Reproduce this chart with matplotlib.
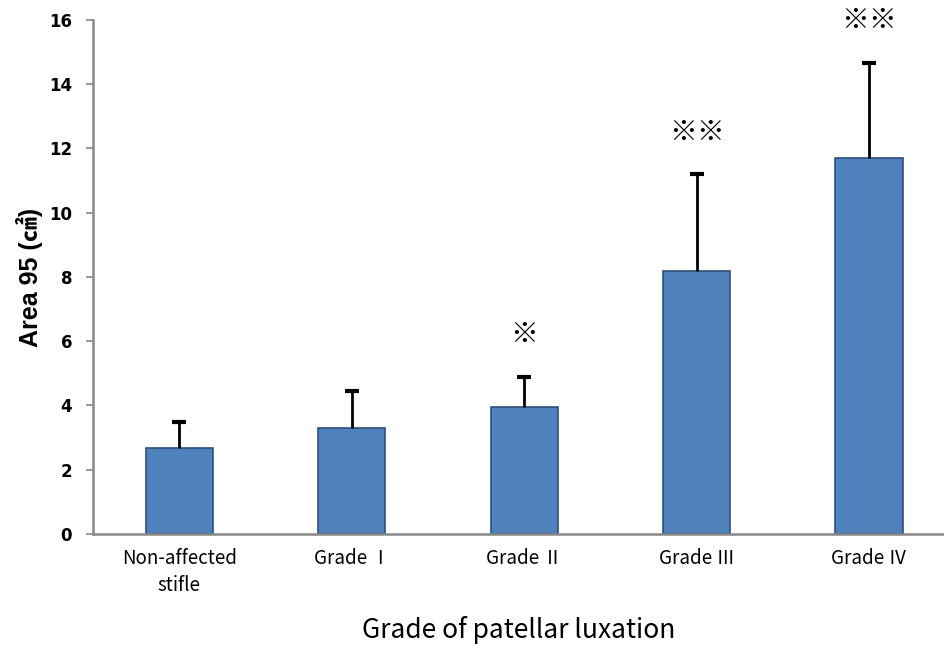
import matplotlib
matplotlib.use('Agg')
import matplotlib.pyplot as plt

# Data
groups = ['Non-affected\nstifle', 'Grade Ⅰ', 'Grade Ⅱ', 'Grade Ⅲ', 'Grade Ⅳ']
means = [2.68, 3.30, 3.96, 8.19, 11.71]
sd = [0.80, 1.15, 0.93, 3.00, 2.96]
marks = ['', '', '※', '※※', '※※']

fig = plt.figure(figsize=(9.45, 6.54), dpi=100)
ax = fig.add_axes([0.0984, 0.1835, 0.9016, 0.786])

x = list(range(len(groups)))
tops = [m + s for m, s in zip(means, sd)]
ax.bar(x, means, width=0.39, color='#4F81BD', edgecolor='#2F4F78', linewidth=1.2, zorder=2)
# upper error bars only, with a cap at the top
ax.errorbar(x, means, yerr=[[0] * len(sd), sd], fmt='none', ecolor='black',
            elinewidth=2, capsize=0, zorder=3)
ax.plot(x, tops, linestyle='none', marker='_', markersize=10, mew=3, color='black', zorder=3)

for xi, t, lab in zip(x, tops, marks):
    if lab:
        ax.text(xi, t + 1.3, lab, ha='center', va='center', fontsize=20, fontweight='bold',
                family=['Noto Sans CJK KR', 'DejaVu Sans'])

ax.set_xlim(-0.5, 4.44)
ax.set_ylim(0, 16)
ax.set_yticks(range(0, 17, 2))
ax.set_xticks(x)
ax.set_xticklabels(groups, family=['Noto Sans CJK KR', 'DejaVu Sans'],
                   fontsize=13.5, linespacing=1.4)
ax.tick_params(axis='x', length=0, pad=10)
ax.tick_params(axis='y', length=5, width=1.2, color='#888888', pad=10, labelsize=12)
for lab in ax.get_yticklabels():
    lab.set_fontweight('bold')
    lab.set_family('DejaVu Sans')

for side in ['top', 'right']:
    ax.spines[side].set_visible(False)
for side in ['left', 'bottom']:
    ax.spines[side].set_color('#888888')
    ax.spines[side].set_linewidth(1.8)

ax.set_ylabel('Area 95 (㎠)', fontsize=18, fontweight='bold',
              family=['Liberation Sans', 'Noto Sans CJK KR'], labelpad=4)
ax.set_xlabel('Grade of patellar luxation', fontsize=19,
              family=['Noto Sans CJK KR', 'DejaVu Sans'], labelpad=14)

fig.savefig('out.png', dpi=100)
